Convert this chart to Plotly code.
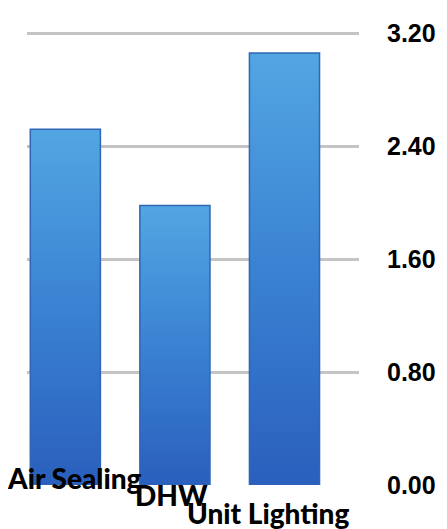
import plotly.graph_objects as go

categories = ["Air Sealing", "DHW", "Unit Lighting"]
values = [2.52, 1.98, 3.06]
tick_vals = [0.0, 0.8, 1.6, 2.4, 3.2]
tick_text = ["0.00", "0.80", "1.60", "2.40", "3.20"]

half_w = 0.32
label_yshift = [7, -10, -28]
label_xshift = [9, -3, -16]

LABEL_FONT = "Lato, Liberation Sans, Arial"
TICK_FONT = "Liberation Sans, Arial"

fig = go.Figure()
for i, (cat, v) in enumerate(zip(categories, values)):
    fig.add_trace(go.Scatter(
        x=[i - half_w, i - half_w, i + half_w, i + half_w, i - half_w],
        y=[0, v, v, 0, 0],
        mode="lines",
        fill="toself",
        fillgradient=dict(type="vertical",
                          colorscale=[[0, "#2a5fbd"], [0.5, "#3a82d2"], [1, "#52a6e2"]]),
        line=dict(color="#2f66b5", width=1.5),
        name=cat,
        hoverinfo="skip",
        showlegend=False,
    ))

for i, cat in enumerate(categories):
    fig.add_annotation(x=i, y=0, text=cat, showarrow=False,
                       xref="x", yref="y", yanchor="middle",
                       yshift=label_yshift[i], xshift=label_xshift[i],
                       font=dict(family=LABEL_FONT, size=28, color="black", weight=900))

fig.update_layout(
    width=439, height=521,
    margin=dict(l=19, r=82, t=11, b=44),
    paper_bgcolor="white", plot_bgcolor="white",
    xaxis=dict(range=[-0.35, 2.68], showgrid=False, zeroline=False,
               showticklabels=False, ticks=""),
    yaxis=dict(range=[0, 3.222], side="right", tickvals=tick_vals, ticktext=tick_text,
               showgrid=True, gridcolor="#c4c4c4", gridwidth=2.5, zeroline=False,
               ticklabelstandoff=27, ticklabeloverflow="allow",
               tickfont=dict(family=TICK_FONT, size=25, color="black", weight="bold")),
)

fig.write_html("out.html")
